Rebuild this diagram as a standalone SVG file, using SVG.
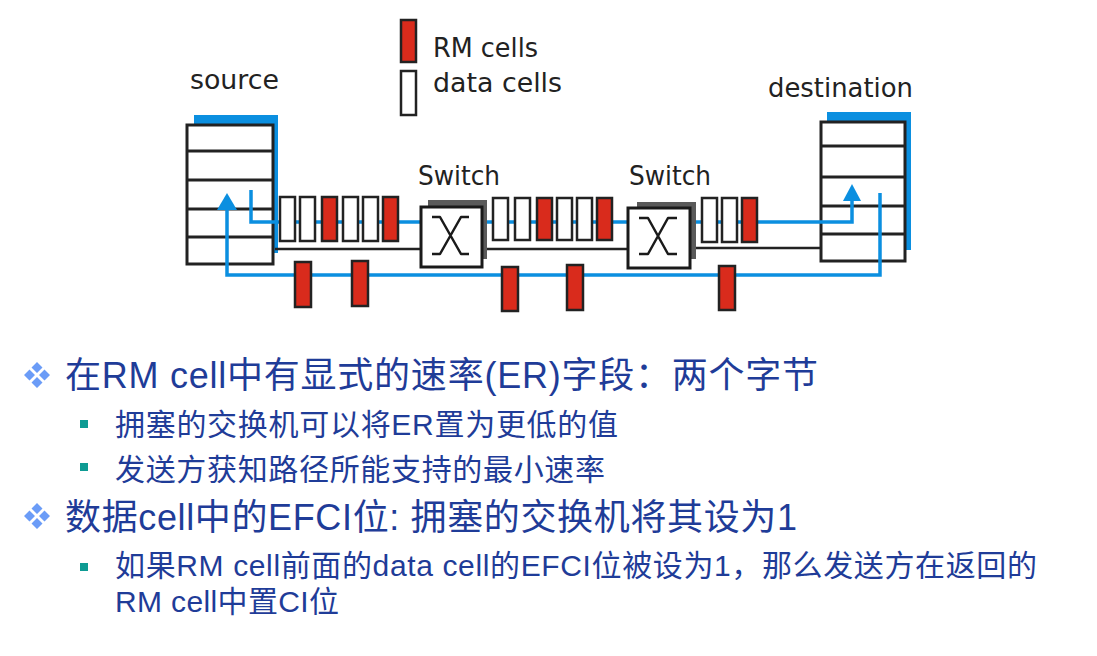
<svg xmlns="http://www.w3.org/2000/svg" width="1097" height="656" viewBox="0 0 1097 656">
  <style>
    .lbl { font-family: "DejaVu Sans", "Liberation Sans", sans-serif; font-size: 26px; fill: #222; }
    .txt { font-family: "Liberation Sans", "Noto Sans CJK SC", sans-serif; fill: #1f3c98; }
    .main { font-size: 36px; }
    .sub { font-size: 30px; }
    .host { fill: #fff; stroke: #222; stroke-width: 3; }
    .row { stroke: #222; stroke-width: 3; }
    .shadowBlue { fill: #0b8fe0; }
    .shadowGray { fill: #5a5a5a; }
    .sw { fill: #fff; stroke: #1a1a1a; stroke-width: 3; }
    .x { fill: none; stroke: #1a1a1a; stroke-width: 2.5; stroke-linejoin: round; }
    .rm { fill: #d92b1c; stroke: #222; stroke-width: 2.5; }
    .data { fill: #fff; stroke: #222; stroke-width: 2.5; }
    .blue { fill: none; stroke: #0b8fe0; stroke-width: 3.5; }
    .head { fill: #0b8fe0; }
    .wire { fill: none; stroke: #222; stroke-width: 2.5; }
    .dia { fill: #6b9cf7; }
    .sq { fill: #0e9b93; }
  </style>
  <defs>
    <!-- four-diamond bullet glyph -->
    <g id="diamonds">
      <path d="M0,-13 L5.5,-7.5 L0,-2 L-5.5,-7.5 Z M0,2 L5.5,7.5 L0,13 L-5.5,7.5 Z M-13,0 L-7.5,-5.5 L-2,0 L-7.5,5.5 Z M2,0 L7.5,-5.5 L13,0 L7.5,5.5 Z"/>
    </g>
  </defs>

  <!-- legend -->
  <g id="legend">
    <rect class="rm" x="401" y="20" width="15" height="42"/>
    <rect class="data" x="401" y="71" width="15" height="44"/>
    <text class="lbl" x="433" y="57" textLength="105" lengthAdjust="spacingAndGlyphs">RM cells</text>
    <text class="lbl" x="433" y="92" textLength="129" lengthAdjust="spacingAndGlyphs">data cells</text>
  </g>

  <!-- source host -->
  <g id="source">
    <text class="lbl" x="190" y="89" textLength="89" lengthAdjust="spacingAndGlyphs">source</text>
    <rect class="shadowBlue" x="194" y="115" width="84" height="138"/>
    <rect class="host" x="187" y="125" width="86" height="139"/>
    <line class="row" x1="187" y1="151" x2="273" y2="151"/>
    <line class="row" x1="187" y1="180" x2="273" y2="180"/>
    <line class="row" x1="187" y1="209" x2="273" y2="209"/>
    <line class="row" x1="187" y1="237" x2="273" y2="237"/>
  </g>

  <!-- destination host -->
  <g id="destination">
    <text class="lbl" x="768" y="97" textLength="145" lengthAdjust="spacingAndGlyphs">destination</text>
    <rect class="shadowBlue" x="827" y="112" width="84" height="138"/>
    <rect class="host" x="821" y="122" width="84" height="139"/>
    <line class="row" x1="821" y1="146" x2="905" y2="146"/>
    <line class="row" x1="821" y1="177" x2="905" y2="177"/>
    <line class="row" x1="821" y1="206" x2="905" y2="206"/>
    <line class="row" x1="821" y1="234" x2="905" y2="234"/>
  </g>

  <!-- links: forward data path, backward RM path, physical wire -->
  <g id="connectors">
    <path class="blue" d="M251,190 V222 H852 V199"/>
    <polygon class="head" points="852,184 861,201 843,201"/>
    <path class="blue" d="M880,193 V275 H227 V207"/>
    <polygon class="head" points="227,193 237,210 217,210"/>
    <path class="wire" d="M275,249 H421"/>
    <path class="wire" d="M482,249 H628"/>
    <path class="wire" d="M690,248 H821"/>
  </g>

  <!-- queue between source and first switch -->
  <g id="queue1">
    <rect class="data" x="280" y="197" width="15" height="44"/>
    <rect class="data" x="300" y="197" width="15" height="44"/>
    <rect class="rm" x="322" y="197" width="15" height="44"/>
    <rect class="data" x="343" y="197" width="15" height="44"/>
    <rect class="data" x="363" y="197" width="15" height="44"/>
    <rect class="rm" x="383" y="197" width="15" height="44"/>
  </g>

  <!-- queue between switches -->
  <g id="queue2">
    <rect class="data" x="493" y="198" width="15" height="42"/>
    <rect class="data" x="515" y="198" width="15" height="42"/>
    <rect class="rm" x="537" y="198" width="15" height="42"/>
    <rect class="data" x="557" y="198" width="15" height="42"/>
    <rect class="data" x="577" y="198" width="15" height="42"/>
    <rect class="rm" x="597" y="198" width="15" height="42"/>
  </g>

  <!-- queue between second switch and destination -->
  <g id="queue3">
    <rect class="data" x="702" y="198" width="15" height="44"/>
    <rect class="data" x="722" y="198" width="15" height="44"/>
    <rect class="rm" x="742" y="198" width="15" height="44"/>
  </g>

  <!-- returning RM cells -->
  <g id="returnCells">
    <rect class="rm" x="295" y="262" width="16" height="45"/>
    <rect class="rm" x="352" y="261" width="16" height="45"/>
    <rect class="rm" x="502" y="267" width="16" height="44"/>
    <rect class="rm" x="567" y="265" width="16" height="45"/>
    <rect class="rm" x="719" y="266" width="16" height="44"/>
  </g>

  <!-- switches -->
  <g id="switch1">
    <text class="lbl" x="418" y="185" textLength="82" lengthAdjust="spacingAndGlyphs">Switch</text>
    <rect class="shadowGray" x="428" y="200" width="59" height="59"/>
    <rect class="sw" x="421" y="207" width="61" height="60"/>
    <path class="x" d="M432,217 H440 L461,254 H469 M469,217 H461 L440,254 H432"/>
  </g>
  <g id="switch2">
    <text class="lbl" x="629" y="185" textLength="82" lengthAdjust="spacingAndGlyphs">Switch</text>
    <rect class="shadowGray" x="637" y="202" width="59" height="57"/>
    <rect class="sw" x="628" y="208" width="62" height="60"/>
    <path class="x" d="M639,218 H648 L668,254 H677 M677,218 H668 L648,254 H639"/>
  </g>

  <!-- bullet points -->
  <g id="bullets">
    <use href="#diamonds" class="dia" x="37" y="375"/>
    <text class="txt main" x="65" y="388" textLength="753" lengthAdjust="spacing">在RM cell中有显式的速率(ER)字段：两个字节</text>
    <rect class="sq" x="80" y="420" width="8" height="8"/>
    <text class="txt sub" x="115" y="435" textLength="503" lengthAdjust="spacing">拥塞的交换机可以将ER置为更低的值</text>
    <rect class="sq" x="80" y="463" width="8" height="8"/>
    <text class="txt sub" x="115" y="480" textLength="490" lengthAdjust="spacing">发送方获知路径所能支持的最小速率</text>
    <use href="#diamonds" class="dia" x="37" y="516"/>
    <text class="txt main" x="65" y="530" textLength="732" lengthAdjust="spacing">数据cell中的EFCI位: 拥塞的交换机将其设为1</text>
    <rect class="sq" x="80" y="563" width="8" height="8"/>
    <text class="txt sub" x="115" y="576" textLength="922" lengthAdjust="spacing">如果RM cell前面的data cell的EFCI位被设为1，那么发送方在返回的</text>
    <text class="txt sub" x="115" y="612" textLength="224" lengthAdjust="spacing">RM cell中置CI位</text>
  </g>
</svg>
